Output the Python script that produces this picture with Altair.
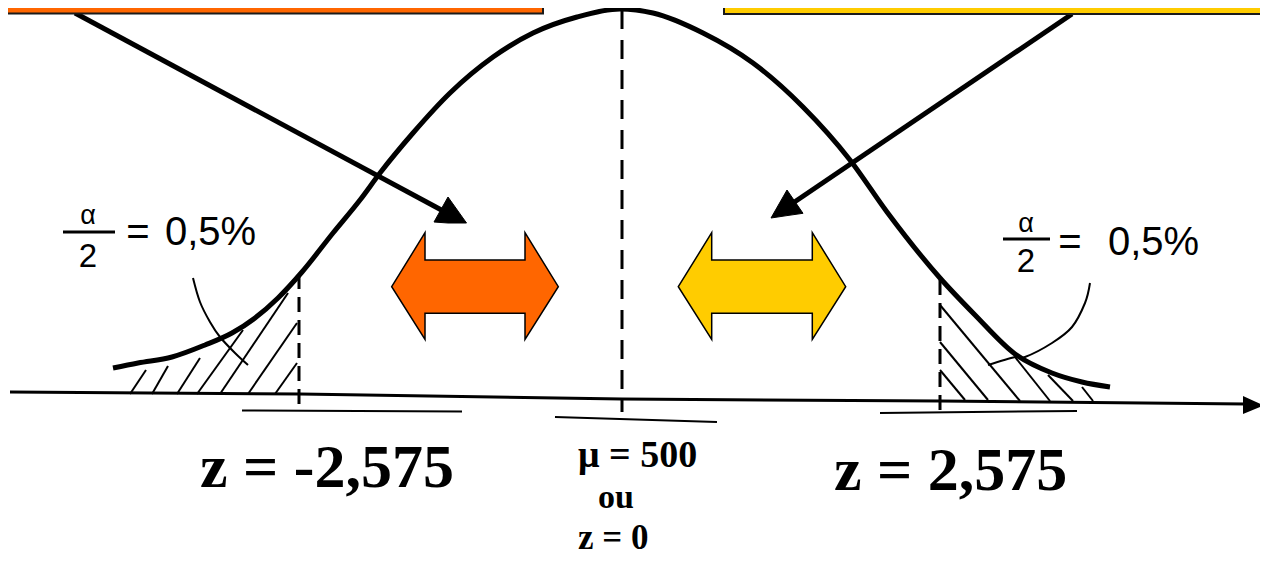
import altair as alt
import pandas as pd

# ---------------------------------------------------------------
# Values (picture units: x to the
# right, y downwards, same units as the 1268x566 reference)
# ---------------------------------------------------------------

# bell curve (hand drawn, read point by point)
CURVE_X = [113, 138, 172, 205, 232, 255, 278, 302, 333, 360, 380, 413, 450, 493, 533, 577, 620,
           653, 703, 753, 803, 850, 887, 940, 975, 1015, 1052, 1082, 1110]
CURVE_Y = [368, 363, 357, 345, 333, 318, 298, 272, 233, 200, 173, 133, 93, 57, 33, 17, 9,
           13, 33, 63, 107, 160, 212, 278, 315, 354, 373, 382, 387]

# horizontal axis (slightly tilted in the scan)
AXIS_X = [10, 300, 622, 940, 1246]
AXIS_Y = [392, 394, 399, 401, 404]
AXIS_HEAD_X = [1243, 1264]
AXIS_HEAD_TOP = [396, 405.5]
AXIS_HEAD_BOT = [414, 405.5]

# vertical dashed lines: z = -2,575 | mean | z = 2,575
CRIT_X = [299, 940]
CRIT_TOP = [274, 280]
CRIT_BOT = [410, 413]
MEAN_X = [622]
MEAN_TOP = [10]
MEAN_BOT = [412]

# short strokes under the axis
UNDER_X1 = [242, 555, 880]
UNDER_Y1 = [410.5, 417, 413]
UNDER_X2 = [462, 717, 1077]
UNDER_Y2 = [411.5, 422, 411]

# hatching of the two tails (segment ends)
HATCH_X1 = [130, 152, 177, 197, 220, 248, 275, 940, 940, 940, 1015, 1048, 1082]
HATCH_Y1 = [394, 394, 394, 394, 394, 394, 394, 370, 342, 305, 357, 375, 387]
HATCH_X2 = [146, 168, 200, 243, 288, 297, 297, 965, 988, 1020, 1050, 1073, 1093]
HATCH_Y2 = [370, 366, 358, 330, 293, 323, 363, 400, 400, 401, 401, 401, 401]

# thin curved pointers from the labels into the tails
POINTER_G = ["g"] * 6 + ["d"] * 7
POINTER_X = [193, 200, 210, 220, 235, 248, 1090, 1085, 1072, 1052, 1025, 1015, 988]
POINTER_Y = [278, 302, 322, 337, 353, 365, 283, 303, 327, 343, 357, 357, 365]

# fraction bars of alpha / 2
BAR_X1 = [63, 1003]
BAR_X2 = [115, 1050]
BAR_Y = [232, 239]

# header boxes (cut by the top of the picture)
BOX_NAME = ["orange", "jaune"]
BOX_X1 = [-10, 724]
BOX_X2 = [543, 1290]
BOX_Y1 = [-10, -10]
BOX_Y2 = [13.5, 14]

# black leader lines from the header boxes
LEADER_G = ["orange", "orange", "jaune", "jaune"]
LEADER_X = [75, 447, 1072, 793]
LEADER_Y = [13, 213, 14, 203]

# arrow heads of the leaders (triangles: x, upper edge, lower edge)
HEAD_G = ["orange"] * 3 + ["jaune"] * 3
HEAD_X = [434, 448, 466.5, 771, 787, 803]
HEAD_TOP = [222, 197, 223, 218, 190, 213.3]
HEAD_BOT = [222, 223, 223, 218, 215.6, 213.3]

# double arrows (x, upper edge, lower edge)
DARROW_G = ["orange"] * 6 + ["jaune"] * 6
DARROW_X = [391.7, 425, 425, 525, 525, 558.3,
            678.3, 711.7, 711.7, 812.3, 812.3, 845.7]
DARROW_TOP = [286.7, 232.7, 260, 260, 232.7, 286.7] * 2
DARROW_BOT = [286.7, 339.3, 313.3, 313.3, 339.3, 286.7] * 2

# labels
ALPHA_TXT = ["α", "α"]
ALPHA_X = [88, 1026]
ALPHA_Y = [224, 232]
TWO_TXT = ["2", "2"]
TWO_X = [88, 1026]
TWO_Y = [267, 272]
EQ_TXT = ["=", "="]
EQ_X = [138, 1070]
EQ_Y = [245, 255]
PCT_TXT = ["0,5%", "0,5%"]
PCT_X = [165, 1108]
PCT_Y = [245, 255]
Z_TXT = ["z = -2,575", "z = 2,575"]
Z_X = [200, 834]
Z_Y = [487, 490]
MU_TXT = ["μ = 500"]
MU_X = [578]
MU_Y = [467]
ZERO_TXT = ["z = 0"]
ZERO_X = [578]
ZERO_Y = [549]
OU_TXT = ["ou"]
OU_X = [616]
OU_Y = [508]

# ---------------------------------------------------------------
XS = alt.Scale(domain=[8, 1260], nice=False, zero=False)
YS = alt.Scale(domain=[8, 558], nice=False, zero=False, reverse=True)
COLS = alt.Scale(domain=["orange", "jaune"], range=["#FF6600", "#FFCC00"])


def X(f="x"):
    return alt.X(f"{f}:Q", scale=XS, axis=None)


def Y(f="y"):
    return alt.Y(f"{f}:Q", scale=YS, axis=None, stack=None)


def idx(n):
    return list(range(n))


layers = []

# leader lines (under the boxes)
leader = pd.DataFrame({"g": LEADER_G, "x": LEADER_X, "y": LEADER_Y, "i": idx(len(LEADER_X))})
layers.append(alt.Chart(leader).mark_line(color="black", strokeWidth=5).encode(
    x=X(), y=Y(), detail="g:N", order="i:Q"))

# header boxes
boxes = pd.DataFrame({"name": BOX_NAME, "x": BOX_X1, "x2": BOX_X2, "y": BOX_Y1, "y2": BOX_Y2})
layers.append(alt.Chart(boxes).mark_rect(stroke="#1a1a1a", strokeWidth=2).encode(
    x=X(), x2="x2:Q", y=Y(), y2="y2:Q",
    fill=alt.Fill("name:N", scale=COLS, legend=None)))

# leader arrow heads (area sorted by x; data order kept for equal x)
heads = pd.DataFrame({"g": HEAD_G, "x": HEAD_X, "y": HEAD_TOP, "y2": HEAD_BOT})
layers.append(alt.Chart(heads).mark_area(color="black", stroke="black", strokeWidth=1,
                                         orient="vertical").encode(
    x=X(), y=Y(), y2="y2:Q", detail="g:N"))

# double arrows
darrow = pd.DataFrame({"g": DARROW_G, "x": DARROW_X, "y": DARROW_TOP, "y2": DARROW_BOT})
layers.append(alt.Chart(darrow).mark_area(stroke="black", strokeWidth=1.5, opacity=1,
                                          orient="vertical").encode(
    x=X(), y=Y(), y2="y2:Q", detail="g:N",
    fill=alt.Fill("g:N", scale=COLS, legend=None)))

# hatching
hatch = pd.DataFrame({"x": HATCH_X1, "y": HATCH_Y1, "x2": HATCH_X2, "y2": HATCH_Y2})
layers.append(alt.Chart(hatch).mark_rule(color="black", strokeWidth=2).encode(
    x=X(), y=Y(), x2="x2:Q", y2="y2:Q"))

# dashed verticals
crit = pd.DataFrame({"x": CRIT_X, "y": CRIT_TOP, "y2": CRIT_BOT})
layers.append(alt.Chart(crit).mark_rule(color="black", strokeWidth=3, strokeDash=[15, 8]).encode(
    x=X(), y=Y(), y2="y2:Q"))
mean = pd.DataFrame({"x": MEAN_X, "y": MEAN_TOP, "y2": MEAN_BOT})
layers.append(alt.Chart(mean).mark_rule(color="black", strokeWidth=3, strokeDash=[19, 11]).encode(
    x=X(), y=Y(), y2="y2:Q"))

# axis
axis = pd.DataFrame({"x": AXIS_X, "y": AXIS_Y, "i": idx(len(AXIS_X))})
layers.append(alt.Chart(axis).mark_line(color="black", strokeWidth=3).encode(
    x=X(), y=Y(), order="i:Q"))
axhead = pd.DataFrame({"x": AXIS_HEAD_X, "y": AXIS_HEAD_TOP, "y2": AXIS_HEAD_BOT})
layers.append(alt.Chart(axhead).mark_area(color="black", orient="vertical").encode(
    x=X(), y=Y(), y2="y2:Q"))

# underlines
under = pd.DataFrame({"x": UNDER_X1, "y": UNDER_Y1, "x2": UNDER_X2, "y2": UNDER_Y2})
layers.append(alt.Chart(under).mark_rule(color="black", strokeWidth=2).encode(
    x=X(), y=Y(), x2="x2:Q", y2="y2:Q"))

# thin pointers
pointer = pd.DataFrame({"g": POINTER_G, "x": POINTER_X, "y": POINTER_Y, "i": idx(len(POINTER_X))})
layers.append(alt.Chart(pointer).mark_line(color="black", strokeWidth=2, interpolate="cardinal").encode(
    x=X(), y=Y(), detail="g:N", order="i:Q"))

# bell curve
curve = pd.DataFrame({"x": CURVE_X, "y": CURVE_Y, "i": idx(len(CURVE_X))})
layers.append(alt.Chart(curve).mark_line(color="black", strokeWidth=5, interpolate="monotone").encode(
    x=X(), y=Y(), order="i:Q"))

# fraction bars
bars = pd.DataFrame({"x": BAR_X1, "x2": BAR_X2, "y": BAR_Y})
layers.append(alt.Chart(bars).mark_rule(color="black", strokeWidth=3).encode(
    x=X(), x2="x2:Q", y=Y()))


def text_layer(txt, xs, ys, size, font, align="left", weight="normal"):
    df = pd.DataFrame({"t": txt, "x": xs, "y": ys})
    return alt.Chart(df).mark_text(
        fontSize=size, font=font, align=align, baseline="alphabetic",
        fontWeight=weight, color="black").encode(x=X(), y=Y(), text="t:N")


SANS = "Liberation Sans"
SERIF = "Liberation Serif"
layers.append(text_layer(ALPHA_TXT, ALPHA_X, ALPHA_Y, 27, SANS, "center"))
layers.append(text_layer(TWO_TXT, TWO_X, TWO_Y, 33, SANS, "center"))
layers.append(text_layer(EQ_TXT, EQ_X, EQ_Y, 40, SANS, "center"))
layers.append(text_layer(PCT_TXT, PCT_X, PCT_Y, 40, SANS, "left"))
layers.append(text_layer(Z_TXT, Z_X, Z_Y, 62, SERIF, "left", "bold"))
layers.append(text_layer(MU_TXT, MU_X, MU_Y, 38, SERIF, "left", "bold"))
layers.append(text_layer(OU_TXT, OU_X, OU_Y, 34, SERIF, "center", "bold"))
layers.append(text_layer(ZERO_TXT, ZERO_X, ZERO_Y, 35, SERIF, "left", "bold"))

chart = alt.layer(*layers).properties(
    width=1252, height=550, padding=0, autosize="none", background="white"
).configure_view(stroke=None)

chart.save("out.html", embed_options={"renderer": "svg", "actions": False})
